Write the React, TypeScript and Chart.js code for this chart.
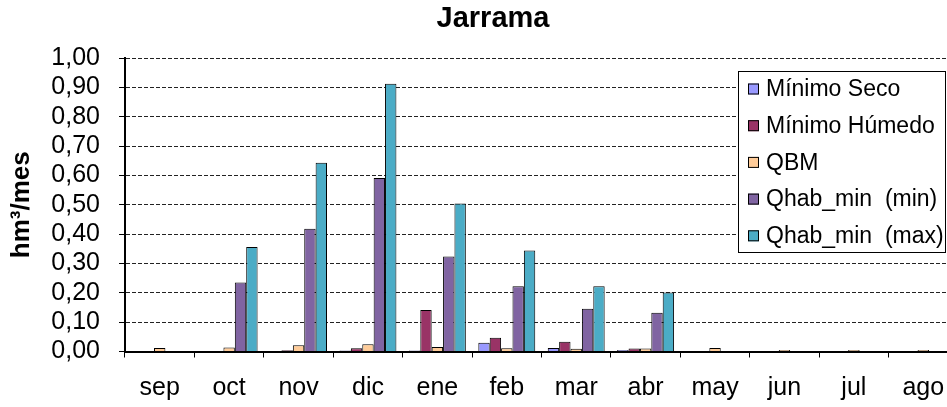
import React, { useEffect, useRef } from "react";
import { Chart, registerables } from "chart.js";

Chart.register(...registerables);

const months = ["sep", "oct", "nov", "dic", "ene", "feb", "mar", "abr", "may", "jun", "jul", "ago"];
const minimoSeco = [0, 0, 0.002, 0.003, 0.003, 0.03, 0.012, 0.005, 0, 0, 0, 0];
const minimoHumedo = [0, 0, 0.004, 0.011, 0.141, 0.047, 0.033, 0.01, 0, 0, 0, 0];
const qbm = [0.012, 0.014, 0.021, 0.025, 0.015, 0.011, 0.009, 0.01, 0.012, 0.005, 0.005, 0.005];
const qhabMin = [0, 0.235, 0.418, 0.591, 0.324, 0.222, 0.146, 0.132, 0, 0, 0, 0];
const qhabMax = [0, 0.356, 0.643, 0.912, 0.504, 0.344, 0.222, 0.201, 0, 0, 0, 0];
const seriesNames = ["Mínimo Seco", "Mínimo Húmedo", "QBM", "Qhab_min  (min)", "Qhab_min  (max)"];
const seriesColors = ["#9999FF", "#993366", "#FFCC99", "#8064A2", "#4BACC6"];

const FONT = "'Liberation Sans', Arial, sans-serif";

const legendPlugin = {
  id: "boxLegend",
  afterDraw(chart: any) {
    const ctx = chart.ctx;
    const x0 = 738, y0 = 71, w = 208, h = 182;
    ctx.save();
    ctx.fillStyle = "#fff";
    ctx.fillRect(x0, y0, w, h);
    ctx.strokeStyle = "#000";
    ctx.lineWidth = 1;
    ctx.strokeRect(x0 + 0.5, y0 + 0.5, w - 1, h - 1);
    ctx.font = `23px ${FONT}`;
    ctx.textBaseline = "middle";
    ctx.textAlign = "left";
    chart.data.datasets.forEach((ds: any, i: number) => {
      const cy = 89 + i * 36.7;
      ctx.fillStyle = ds.backgroundColor;
      ctx.fillRect(748, cy - 5.5, 11, 11);
      ctx.strokeStyle = "#000";
      ctx.strokeRect(748.5, cy - 5, 10, 10);
      ctx.fillStyle = "#000";
      ctx.fillText(ds.label, 766, cy + 1);
    });
    ctx.restore();
  },
};

export default function App() {
  const ref = useRef<HTMLCanvasElement>(null);
  useEffect(() => {
    if (!ref.current) return;
    const values = [minimoSeco, minimoHumedo, qbm, qhabMin, qhabMax];
    const chart = new Chart(ref.current, {
      type: "bar",
      data: {
        labels: months,
        datasets: values.map((v, i) => ({
          label: seriesNames[i],
          data: v,
          backgroundColor: seriesColors[i],
          borderColor: "#000",
          borderWidth: 1,
          categoryPercentage: 0.82,
          barPercentage: 1.0,
        })),
      },
      options: {
        responsive: false,
        animation: false,
        layout: { padding: 0 },
        plugins: {
          legend: { display: false },
          tooltip: { enabled: false },
          title: {
            display: true,
            text: "Jarrama",
            color: "#000",
            font: { family: FONT, size: 29, weight: "bold", lineHeight: 1.2 },
            padding: { top: 1.5, bottom: 21.7 },
          },
        },
        scales: {
          x: {
            grid: {
              display: true,
              offset: true,
              drawOnChartArea: false,
              drawTicks: true,
              tickLength: 6,
              tickColor: "#000",
              tickWidth: 1,
            },
            border: { display: true, color: "#000", width: 2 },
            ticks: { color: "#000", font: { family: FONT, size: 25 }, padding: 16, maxRotation: 0, autoSkip: false },
            afterFit: (s: any) => {
              s.height = 55.5;
            },
          },
          y: {
            min: 0,
            max: 1,
            ticks: {
              stepSize: 0.1,
              autoSkip: false,
              color: "#000",
              font: { family: FONT, size: 25 },
              padding: 19,
              callback: (v: any) => Number(v).toFixed(2).replace(".", ","),
            },
            grid: {
              color: "#222",
              lineWidth: 1,
              drawTicks: true,
              tickLength: 6,
              tickColor: "#000",
              tickWidth: 1,
            },
            border: { display: true, color: "#000", width: 2, dash: [4, 2] },
            title: {
              display: true,
              text: "hm³/mes",
              color: "#000",
              font: { family: FONT, size: 26, weight: "bold", lineHeight: 1.2 },
              padding: { top: 6, bottom: 0 },
            },
            afterFit: (s: any) => {
              s.width = 125;
            },
          },
          spacer: {
            type: "linear",
            position: "right",
            display: true,
            grid: { display: false, drawTicks: false },
            border: { display: false },
            ticks: { display: false },
            afterFit: (s: any) => {
              s.width = 28;
            },
          },
        },
      },
      plugins: [legendPlugin],
    });
    return () => chart.destroy();
  }, []);
  return (
    <div style={{ position: "absolute", left: 0, top: 0, width: 947, height: 407, overflow: "hidden", background: "#fff" }}>
      <canvas ref={ref} width={986} height={407} style={{ display: "block", width: 986, height: 407 }} />
    </div>
  );
}
